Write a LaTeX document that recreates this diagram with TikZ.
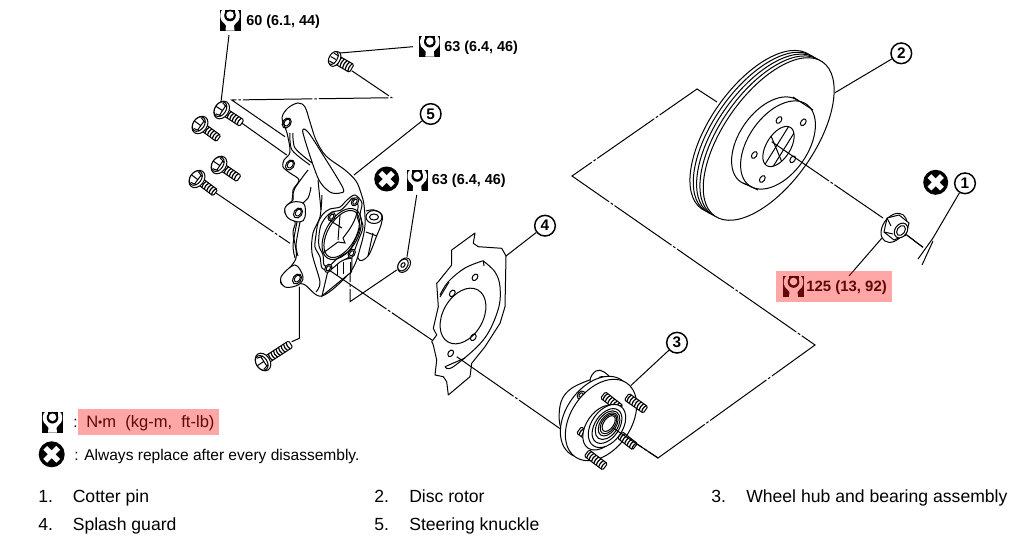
\documentclass[tikz,border=0pt]{standalone}
\usepackage{fontspec}
\setmainfont{Liberation Sans}
\definecolor{pinkbox}{HTML}{FFA6A6}
\definecolor{darkred}{HTML}{5E0A0A}
\newcommand{\wrenchicon}[4]{%
 \begin{scope}[shift={(#1,#2)}]
 \fill[#3] (0,0) rectangle (21,21);
 \fill[#4] (3.5,0) .. controls (0.5,1) and (0,8) .. (2,11) .. controls (3.5,13.5) and (6,14) .. (6.5,16) -- (6,21) -- (15,21) -- (14.5,16) .. controls (15,14) and (17.5,13.5) .. (19,11) .. controls (21,8) and (20.5,1) .. (17.5,0) -- cycle;
 \fill[#3] (5.5,0) rectangle (15.5,4);
 \fill[#3] (10.5,6) circle (5.8);
 \fill[#4] (10.5,5.5) circle (3.8);
 \end{scope}}
\newcommand{\xicon}[3]{%
 \begin{scope}[shift={(#1,#2)}]
 \fill[black] (0,0) circle (#3);
 \draw[white,line width=4pt] (-0.5*#3,-0.5*#3) -- (0.5*#3,0.5*#3) (-0.5*#3,0.5*#3) -- (0.5*#3,-0.5*#3);
 \end{scope}}
% threaded shank: x, y, rotation, length, half width
\newcommand{\threadpart}[5]{%
 \begin{scope}[shift={(#1,#2)},rotate=#3]
 \filldraw[part,fill=white,rounded corners=1pt] (0,-#5) rectangle (#4,#5);
 \pgfmathsetmacro{\tickend}{#4-1}
 \foreach \u in {3,6,...,\tickend} {\draw[line width=0.9pt] (\u,-#5) .. controls (\u-1.2,0) .. (\u,#5);}
 \end{scope}}
% flanged bolt: x, y of head, rotation, length
\newcommand{\boltpart}[4]{%
 \threadpart{#1}{#2}{#3}{#4}{3.8}
 \begin{scope}[shift={(#1,#2)},rotate=#3]
 \filldraw[part,fill=white] (0,0) ellipse (7 and 9.5);
 \filldraw[part,fill=white] (-1.5,0) ellipse (5.5 and 8);
 \draw[part] (-3,-6.5) -- (3,-5) (-3,6.5) -- (3,5) (-7,0) -- (1,0) (1,-5) -- (1,5);
 \end{scope}}
\tikzset{
 part/.style={line width=0.75pt,draw=black},
 chain/.style={line width=0.75pt,dash pattern=on 52pt off 1.5pt on 2pt off 1.5pt},
 leader/.style={line width=0.75pt},
 numlabel/.style={circle,draw,line width=1.1pt,fill=white,minimum size=15.5pt,inner sep=0pt,font=\bfseries\fontsize{11.5pt}{12pt}\selectfont},
 torque/.style={anchor=base west,inner sep=0pt,font=\bfseries\fontsize{10.8pt}{12pt}\selectfont},
 listtext/.style={anchor=base west,inner sep=0pt,font=\fontsize{13.2pt}{15pt}\selectfont},
 legendtext/.style={anchor=base west,inner sep=0pt,font=\fontsize{11.65pt}{14pt}\selectfont},
 small/.style={part,fill=white}
}
\begin{document}
\begin{tikzpicture}[x=0.75pt,y=-0.75pt]
\useasboundingbox (0,0) rectangle (1024,553);
\fill[white] (0,0) rectangle (1024,553);

% ---------- coordinates for connector ends
\coordinate (ic60) at (229,35);
\coordinate (b60) at (221,102);
\coordinate (chA) at (231.7,100);
\coordinate (chB) at (391.7,97.7);
\coordinate (chC) at (351.7,70.7);
\coordinate (chD) at (285,136.7);
\coordinate (bE) at (241.7,123);
\coordinate (bF) at (286.7,155);
\coordinate (ic63) at (413,46.7);
\coordinate (bt63) at (340,53);
\coordinate (c5) at (354,175);
\coordinate (bG) at (216,193);
\coordinate (bH) at (290,243.3);
\coordinate (nutS) at (396.7,270);
\coordinate (nutT) at (350,301.7);
\coordinate (nutU) at (350,271.7);
\coordinate (nutV) at (407,256.7);
\coordinate (nutW) at (416.7,195);
\coordinate (botA) at (291.7,341.7);
\coordinate (botB) at (299.3,338.3);
\coordinate (botC) at (299.3,286.7);
\coordinate (kh) at (329,270);
\coordinate (gA) at (432,340);
\coordinate (gB) at (456.7,356.7);
\coordinate (hA) at (562,430);
\coordinate (c4) at (506,256);
\coordinate (c3) at (630.7,385.7);
\coordinate (c2) at (835,92.7);
\coordinate (c1) at (933,238);
\coordinate (rA) at (717,102);
\coordinate (rB) at (697,89);
\coordinate (rC) at (572,176);
\coordinate (rD) at (815,345);
\coordinate (rE) at (658,458);
\coordinate (rF) at (613,428);
\coordinate (rG) at (771.7,141.7);
\coordinate (rH) at (883,218);
\coordinate (nA) at (906.7,235);
\coordinate (nB) at (923,247.3);
\coordinate (nC) at (881.7,238.3);
\coordinate (nD) at (849,276);
\coordinate (nE) at (853.6,270.7);

% ---------- connectors behind the parts
\draw[leader] (ic60) -- (b60);
\draw[chain] (chD) -- (chA) -- (chB) -- (chC);
\draw[chain] (bE) -- (bF);
\draw[chain] (bG) -- (bH);
\draw[leader] (ic63) -- (bt63);
\draw[chain] (nutS) -- (nutT) -- (nutU);
\draw[chain] (nutV) -- (nutW);
\draw[leader] (botA) -- (botB) -- (botC);
\draw[chain] (rA) -- (rB) -- (rC) -- (rD) -- (rE) -- (rF);
\draw[chain] (nA) -- (nB);

% ---------- bolts
\boltpart{221.7}{110}{-33}{24}
\boltpart{200}{125}{-36}{23}
\boltpart{219}{165}{-34}{24}
\boltpart{197}{179}{-37}{23}
\threadpart{337}{60}{-30}{17}{4.5}
\begin{scope}[shift={(335,59)},rotate=-30]
 \filldraw[part,fill=white] (0,0) ellipse (5 and 8);
 \filldraw[part,fill=white] (-2,0) ellipse (4 and 7);
 \draw[part] (-5,0) -- (1,0) (-4,-4.5) -- (2,-4.5) (-4,4.5) -- (2,4.5);
\end{scope}
\boltpart{263}{362}{33}{33}

% ---------- steering knuckle
\filldraw[small] plot[smooth,tension=0.6] coordinates {(366,211)(374,210)(382,215)(381,225)(377,235)(368,256)(358,258)(360,225)};
\draw[part] (374,217) ellipse (8 and 6.5);
\draw[part] (374,217) ellipse (4.5 and 3);
\draw[part] (366,232) -- (377,236) (368,256) -- (373,233);
\filldraw[part,fill=white] plot[smooth cycle,tension=0.55] coordinates {(282,118)(288,108)(298,103)(305,107)(310,122)(316,140)(326,156)(345,170)(356,181)(361,193)(364,205)(365,225)(361,245)(351,271)(322,296)(303,284)(283,285)(282,277)(296,258)(293,233)(295,222)(285,213)(287,205)(293,200)(293,190)(299,180)(290,173)(283,167)(284,160)(290,152)(287,133)};
\filldraw[part,fill=white] (322,296) -- (351.7,271.7) -- (352,258) -- (330,262) -- cycle;
\foreach \r in {337,343,350} {\draw[part] (\r,262) -- (\r,283-\r/40);}
% pocket and ribs
\draw[part] plot[smooth cycle,tension=0.5] coordinates {(303,133)(318,178)(330,192)(340,193)(343,188)(323,155)(308,132)};
\draw[part] plot[smooth,tension=0.5] coordinates {(290,133)(292,150)(310,165)};
\draw[part] plot[smooth,tension=0.5] coordinates {(293,133)(295,148)(312,163)};
\draw[part] plot[smooth,tension=0.5] coordinates {(308,170)(295,188)(292,200)};
\draw[part] plot[smooth,tension=0.5] coordinates {(311,187)(308,198)(298,207)};
\draw[part] plot[smooth,tension=0.5] coordinates {(318,180)(321,210)};
\draw[part] plot[smooth,tension=0.5] coordinates {(297,222)(293,245)(295,258)};
\draw[part] plot[smooth,tension=0.5] coordinates {(300,222)(296,245)(298,256)};
\draw[part] plot[smooth,tension=0.5] coordinates {(322,195)(320,217)(313,233)(312,253)(320,282)(316,292)};
% bosses round the lower ear holes
\filldraw[part,fill=white] plot[smooth cycle,tension=0.6] coordinates {(285,208)(293,202)(304,204)(305,217)(300,222)(288,218)};
\filldraw[part,fill=white] plot[smooth cycle,tension=0.6] coordinates {(281,277)(295,265)(303,277)(298,285)(285,287)};
\foreach \p/\q in {286.7/123,290/165,298/213,297/279} {
 \begin{scope}[shift={(\p,\q)},rotate=55]
  \draw[part] (0,0) ellipse (5.5 and 4);
  \draw[part] (0.5,0) ellipse (3.8 and 2.6);
 \end{scope}}
% flange
\filldraw[part,fill=white] plot[smooth cycle,tension=0.5] coordinates {(355,195)(362,203)(360,215)(363,227)(358,241)(352,255)(340,262)(330,270)(322,268)(320,257)(315,247)(316,235)(318,223)(323,214)(330,209)(340,207)(347,200)};
\draw[part] plot[smooth cycle,tension=0.5] coordinates {(353,198)(358,205)(357,216)(360,227)(355,240)(349,251)(338,258)(329,266)(324,265)(323,255)(319,246)(319,235)(321,225)(326,217)(332,212)(341,210)(348,203)};
\begin{scope}[shift={(341.7,234)},rotate=60]
 \draw[part] (0,0) ellipse (28 and 16);
 \draw[part] (0,0) ellipse (26 and 14);
\end{scope}
\draw[part] (323,253) -- (338,242) -- (345,243) -- (343,238) -- (349,230) .. controls (353,224) and (356,218) .. (357,212);
\draw[part] (329,220) -- (342,228) (340,215) -- (338,240);
\foreach \p/\q in {331.7/216.7,355/201.7,351.7/253.3,328.3/268.3} {
 \begin{scope}[shift={(\p,\q)},rotate=55]
  \filldraw[part,fill=white] (0,0) ellipse (4.5 and 3.2);
  \draw[part] (0,0) ellipse (2.8 and 1.8);
 \end{scope}}

% ---------- small nut on knuckle
\begin{scope}[shift={(403,265)},rotate=55]
 \filldraw[part,fill=white] (0.5,1) ellipse (8 and 5.5);
 \filldraw[part,fill=white] (0,0) ellipse (6.5 and 4.5);
 \draw[part] (0,0) ellipse (2.6 and 1.8);
\end{scope}

% ---------- splash guard
\filldraw[part,fill=white,line join=round] plot coordinates {(475,233)(473.3,243.3)(478.3,246.7)(501.7,248.3)(506,256)(505,306.7)(500,323.3)(485,346.7)(471.7,363.3)(470,376.7)(448.3,395)(446.7,381.7)(443.3,376.7)(435,375)(436.7,360)(433.3,345)(431.7,341.7)(436.7,335)(433.3,328.3)(438.3,306.7)(436.7,283.3)(438.3,281.7)(451.7,265)(451.7,250)} -- cycle;
\draw[part] plot[smooth,tension=0.6] coordinates {(483.3,261)(495,272)(500,287)(498,310)(483.3,340)(453.3,366.7)(445,366.7)};
\draw[part] plot[smooth,tension=0.6] coordinates {(440,295)(448.3,281.7)(465,268)(483.3,260.7)};
\draw[part] (440,297) -- (449,282) (483.3,260.7) -- (484,266) (445,366.7) -- (465,358);
\begin{scope}[shift={(463,316)},rotate=60]
 \draw[part] (0,0) ellipse (30 and 20);
\end{scope}
\foreach \p/\q in {475/277.3,452.3/293.3,473.3/337.3,450.7/353.3} {
 \begin{scope}[shift={(\p,\q)},rotate=55]
  \draw[part] (0,0) ellipse (3.6 and 2.5);
 \end{scope}}
\draw[chain] (kh) -- (gA);
\draw[chain] (gB) -- (hA);

% ---------- wheel hub and bearing
\filldraw[part,fill=white] plot[smooth,tension=0.6] coordinates {(595,378)(572,388)(561,402)(560,425)(570,438)(585,430)(600,390)};
\filldraw[part,fill=white] plot[smooth cycle,tension=0.7] coordinates {(590,381)(596,371)(604,372)(611,380)(606,388)(596,394)};
\draw[part] (602,379) ellipse (3.5 and 2.5);
\filldraw[part,fill=white,shift={(596,417)},rotate=55] (0,0) ellipse (45 and 30);
\begin{scope}[shift={(581,395)},rotate=50]
 \filldraw[part,fill=white] (0,0) ellipse (4.5 and 3.2);
 \draw[part] (0,0) ellipse (2.5 and 1.6);
\end{scope}
\filldraw[part,fill=white,shift={(601,420)},rotate=55] (0,0) ellipse (45 and 30);
\threadpart{603}{395}{-38}{22}{4}
\threadpart{626.7}{396.7}{-35}{23}{4}
\threadpart{579}{430}{-36}{22}{4}
\threadpart{586.7}{453}{-37}{23}{4}
\begin{scope}[shift={(607,426)},rotate=55]
 \filldraw[part,fill=white] (-4,-3) ellipse (25 and 16);
 \filldraw[part,fill=white] (0,0) ellipse (24 and 15.5);
 \draw[part] (0,0) ellipse (19.5 and 12);
 \draw[part] (1,0) ellipse (16 and 10);
 \draw[part] (2,0) ellipse (13 and 8);
 \draw[part] (2.5,0) ellipse (11 and 6.5);
 \draw[part] (3,0) ellipse (9 and 5);
\end{scope}
\threadpart{620}{435}{-38}{19}{4}
\draw[chain] (rF) -- (rE);

% ---------- disc rotor
\foreach \f in {1,0.75,0.5,0.25} {
 \filldraw[part,fill=white,shift={(768.7-13.3*\f,139-7.3*\f)},rotate=55] (0,0) ellipse (94 and 45.3);
}
\filldraw[part,fill=white,shift={(768.7,139)},rotate=55] (0,0) ellipse (94 and 45.3);
\filldraw[part,fill=white,shift={(769,141)},rotate=55] (0,0) ellipse (49.7 and 29.6);
\filldraw[part,fill=white,shift={(778,145)},rotate=55] (0,0) ellipse (49.7 and 29.6);
\draw[part] (793,97) -- (813,110) (743,183) -- (758,190);
\begin{scope}[shift={(778.5,146.5)},rotate=58]
 \filldraw[part,fill=white] (0,0) ellipse (22.5 and 12);
 \clip (0,0) ellipse (22.5 and 12);
 \draw[part] (-22,6) -- (22,6) (-22,-2) -- (22,-2);
 \draw[part] (5,-12) -- (-12,12);
\end{scope}
\foreach \p/\q in {779/120,803.3/122.3,754.3/155,792.7/159.3,762.3/179} {
 \begin{scope}[shift={(\p,\q)},rotate=55]
  \filldraw[part,fill=white] (0,0) ellipse (3.7 and 2.4);
 \end{scope}}
\draw[chain] (rG) -- (rH);

% ---------- hub nut and cotter pin
\begin{scope}[shift={(895,228)},rotate=55]
 \filldraw[part,fill=white] (-0.5,-1) ellipse (16 and 11);
\end{scope}
\filldraw[part,fill=white] (884,232) -- (887,218) -- (899,215) -- (909,223) -- (906,235) -- (894,240) -- cycle;
\draw[part] (887,218) -- (891,226) (884,232) -- (893,234);
\begin{scope}[shift={(901,230.5)},rotate=55]
 \filldraw[part,fill=white] (0,0) ellipse (8 and 6);
 \draw[part] (0,0) ellipse (5.5 and 3.8);
\end{scope}
\draw[leader] (nA) -- (nB);
\draw[part] (933,238) -- (918,259) (933,241) -- (922,265);

% ---------- numbered callouts
\node[numlabel] (lab1) at (965,183.3) {1};
\node[numlabel] (lab2) at (901.3,53.3) {2};
\node[numlabel] (lab3) at (677,342.7) {3};
\node[numlabel] (lab4) at (545,225.7) {4};
\node[numlabel] (lab5) at (430.7,114) {5};
\draw[leader] (lab1) -- (c1);
\draw[leader] (lab2) -- (c2);
\draw[leader] (lab3) -- (c3);
\draw[leader] (lab4) -- (c4);
\draw[leader] (lab5) -- (c5);

% ---------- torque labels
\wrenchicon{219.5}{9.5}{black}{white}
\node[torque] (t60) at (246,25) {60 (6.1, 44)};
\wrenchicon{419.3}{35.7}{black}{white}
\node[torque] (t63a) at (444,51) {63 (6.4, 46)};
\xicon{386.7}{179}{12.5}
\wrenchicon{406.7}{170}{black}{white}
\node[torque] (t63b) at (431.7,184.5) {63 (6.4, 46)};
\xicon{935.7}{182.3}{12.5}

\draw[leader] (nC) -- (nE);
\fill[pinkbox] (775.7,270.7) rectangle (892.3,301.7);
\draw[leader,darkred] (nE) -- (nD);
\wrenchicon{783}{276}{darkred}{pinkbox}
\node[torque,text=darkred,font=\bfseries\fontsize{11.2pt}{12pt}\selectfont] (t125) at (806,291) {125 (13, 92)};

% ---------- legend
\wrenchicon{42}{411.7}{black}{white}
\node[legendtext] (colon1) at (73,427) {:};
\fill[pinkbox] (78.3,409.3) rectangle (219.3,435.3);
\node[legendtext,text=darkred,font=\fontsize{12.4pt}{14pt}\selectfont] (units) at (86,427) {N{\fontsize{9pt}{9pt}\selectfont\raisebox{0.5pt}{•}}m\ \ (kg-m,\ \ ft-lb)};
\xicon{51.7}{454.3}{13}
\node[legendtext] (always) at (74,460) {: Always replace after every disassembly.};

% ---------- parts list
\node[listtext] (n1) at (38,502) {1.};
\node[listtext] (i1) at (72.5,502) {Cotter pin};
\node[listtext] (n2) at (374,502) {2.};
\node[listtext] (i2) at (409,502) {Disc rotor};
\node[listtext] (n3) at (711,502) {3.};
\node[listtext] (i3) at (746,502) {Wheel hub and bearing assembly};
\node[listtext] (n4) at (38,530) {4.};
\node[listtext] (i4) at (72.5,530) {Splash guard};
\node[listtext] (n5) at (374,530) {5.};
\node[listtext] (i5) at (409,530) {Steering knuckle};
\end{tikzpicture}
\end{document}
